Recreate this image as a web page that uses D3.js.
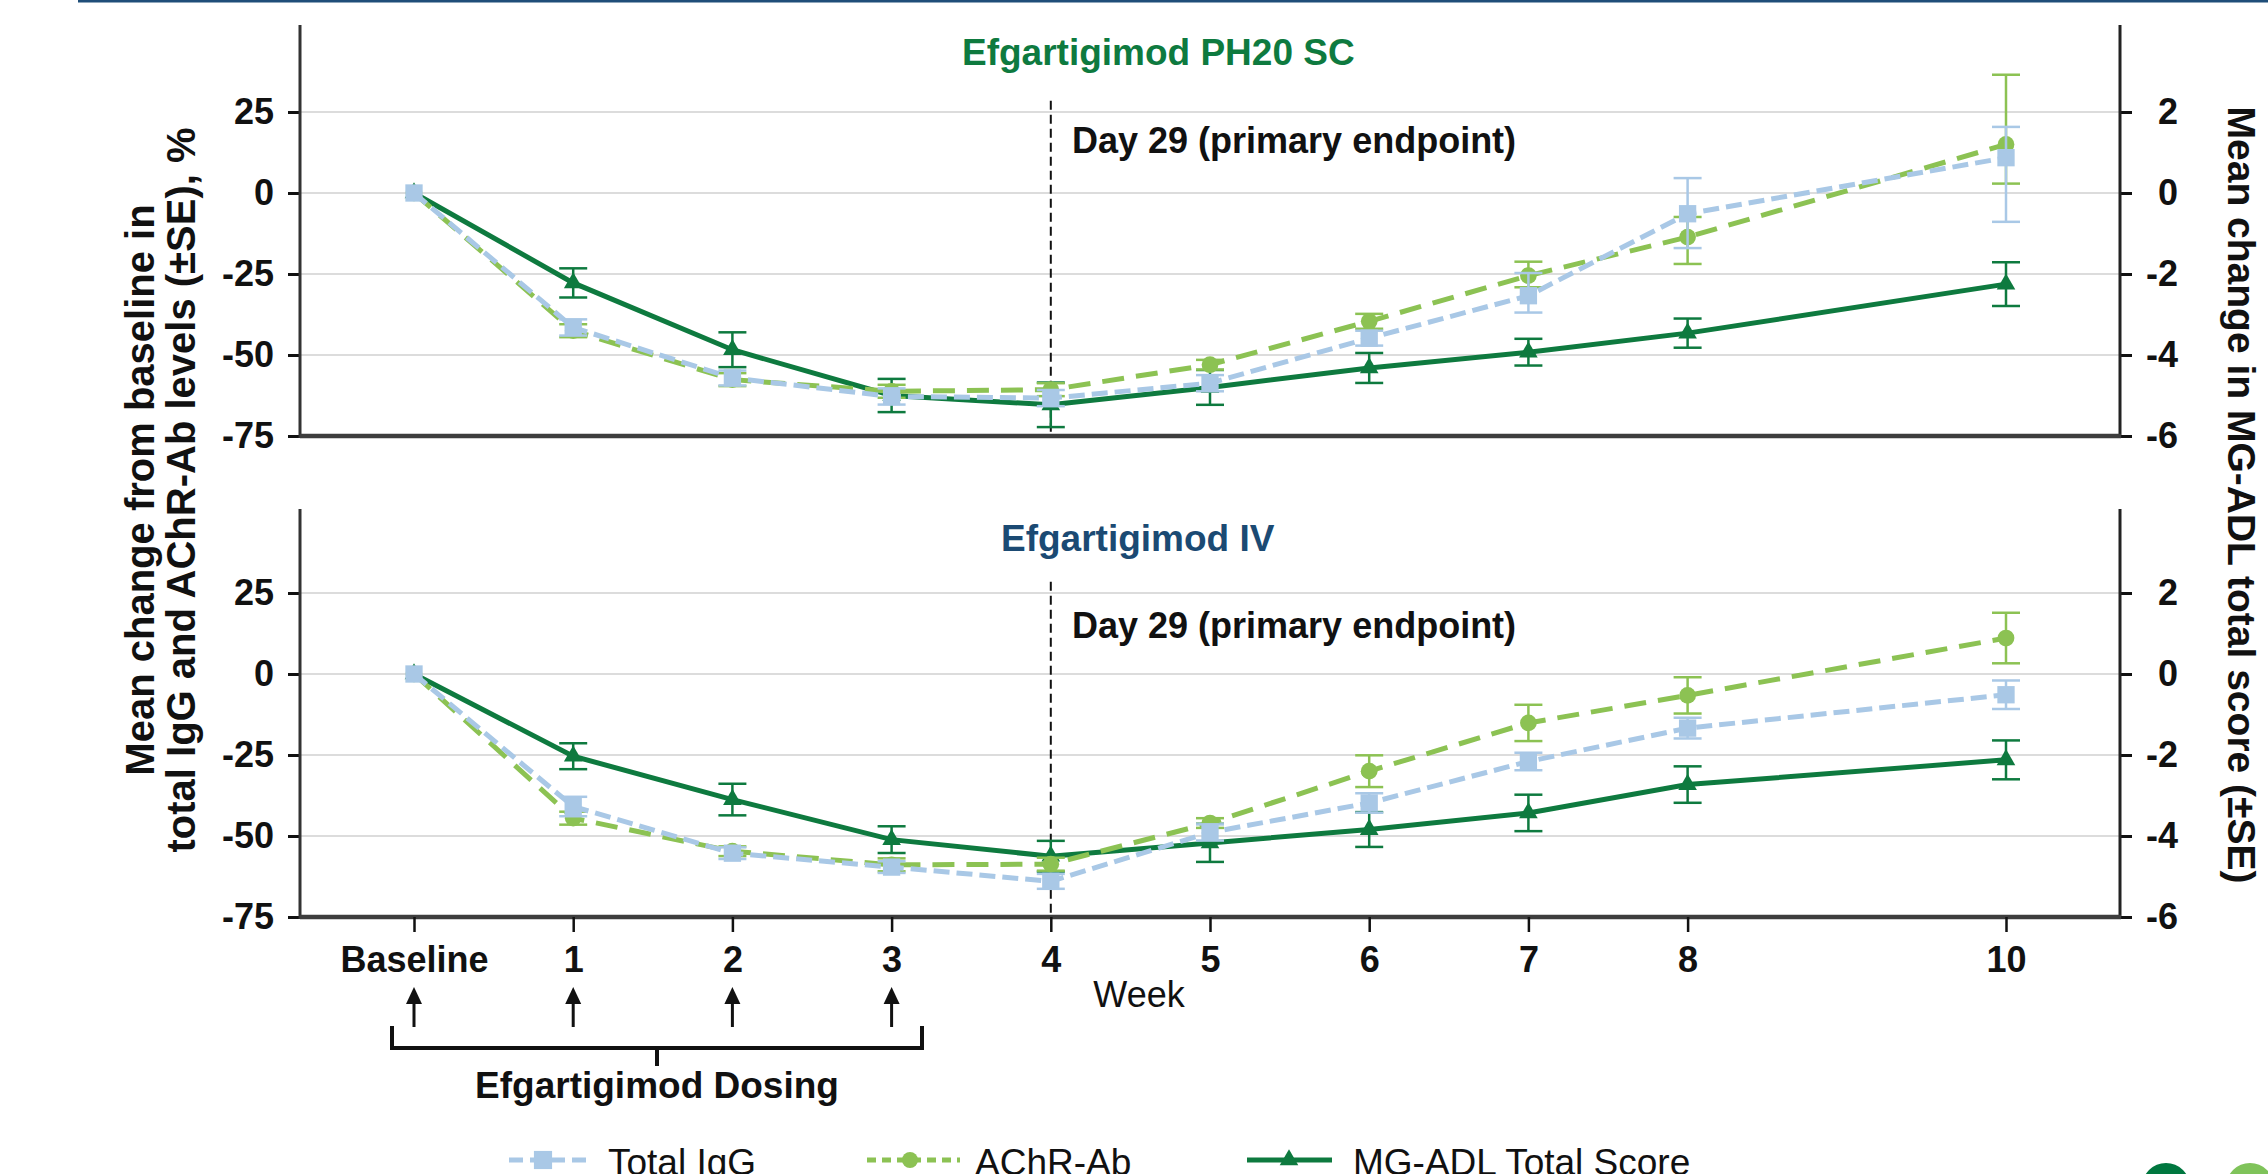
<!DOCTYPE html>
<html>
<head>
<meta charset="utf-8">
<script src="https://cdn.jsdelivr.net/npm/d3@7"></script>
<style>
  body { margin: 0; background: #fff; }
  svg text { font-family: "Liberation Sans", Arial, Helvetica, sans-serif; }
</style>
</head>
<body>
<svg id="chart" width="2268" height="1174"></svg>
<script>
'use strict';

// weeks on the x axis (baseline = 0)
var weeks = [0, 1, 2, 3, 4, 5, 6, 7, 8, 10];
var weekLabels = ['Baseline', '1', '2', '3', '4', '5', '6', '7', '8', '10'];
var leftTicks = [25, 0, -25, -50, -75];
var rightTicks = [2, 0, -2, -4, -6];
var gridVals = [25, 0, -25, -50];
var dosingWeeks = [0, 1, 2, 3];

// Efgartigimod PH20 SC (top panel)
var scIgG = [0, -41.5, -57.1, -62.8, -63.3, -58.7, -44.8, -31.7, -6.4, 10.9];
var scIgGUp = [0, 2.5, 2.3, 2.5, 2.5, 2.5, 2.3, 7.0, 11.0, 9.5];
var scIgGDown = [0, 2.5, 2.3, 2.5, 2.5, 2.5, 2.3, 5.2, 10.6, 19.8];
var scAChR = [0, -42.5, -57.6, -61.2, -60.7, -53, -39.6, -25.5, -13.6, 15];
var scAChRUp = [0, 2, 2, 2, 2, 1.5, 2.3, 4.3, 6.2, 21.5];
var scAChRDown = [0, 2, 2, 2, 2, 1.5, 2.3, 3.6, 8.3, 12.1];
var scMG = [0, -2.22, -3.87, -5.0, -5.23, -4.8, -4.32, -3.93, -3.46, -2.25];
var scMGSe = [0, 0.36, 0.43, 0.41, 0.55, 0.43, 0.37, 0.33, 0.36, 0.54];

// Efgartigimod IV (bottom panel)
var ivIgG = [0, -40.9, -55.3, -59.6, -64, -48.9, -39.8, -27, -16.7, -6.4];
var ivIgGSe = [0, 3, 1.8, 1.8, 2.3, 2.5, 3, 2.7, 3.2, 4.4];
var ivAChR = [0, -44.5, -54.7, -58.9, -58.7, -46, -30, -15.1, -6.6, 11.1];
var ivAChRSe = [0, 2, 1.5, 2, 2, 1.5, 4.9, 5.6, 5.6, 7.8];
var ivMG = [0, -2.03, -3.1, -4.09, -4.5, -4.17, -3.84, -3.43, -2.73, -2.12];
var ivMGSe = [0, 0.32, 0.39, 0.33, 0.38, 0.47, 0.43, 0.45, 0.45, 0.48];

var blue = '#a9c8e6', lime = '#8cc253', green = '#0e7a3f';
var xLeft = 300, xRight = 2120;
var svg = d3.select('#chart');

var x = d3.scaleLinear().domain([0, 10]).range([414, 2006]);

// thin rule at the very top
svg.append('line')
  .attr('x1', 78).attr('x2', 2268).attr('y1', 1).attr('y2', 1)
  .attr('stroke', '#1f4e79').attr('stroke-width', 3);

function drawPanel(p) {
  var yL = d3.scaleLinear().domain([-75, 25]).range([p.bottom, p.top25]);
  var yR = d3.scaleLinear().domain([-6, 2]).range([p.bottom, p.top25]);
  var g = svg.append('g');

  // gridlines
  g.selectAll('.grid').data(gridVals).enter().append('line')
    .attr('x1', xLeft).attr('x2', xRight)
    .attr('y1', function(d) { return yL(d); })
    .attr('y2', function(d) { return yL(d); })
    .attr('stroke', '#dcdcdc').attr('stroke-width', 2);

  // day 29 marker
  g.append('line')
    .attr('x1', x(4)).attr('x2', x(4))
    .attr('y1', yL(28.5)).attr('y2', yL(-75))
    .attr('stroke', '#111').attr('stroke-width', 2)
    .attr('stroke-dasharray', '9,5');
  g.append('text')
    .attr('x', 1072).attr('y', p.dayY)
    .style('font-size', '36px').style('font-weight', 'bold')
    .attr('fill', '#111')
    .text('Day 29 (primary endpoint)');

  // title
  g.append('text')
    .attr('x', p.titleX).attr('y', p.titleY)
    .style('font-size', '37px').style('font-weight', 'bold')
    .attr('fill', p.titleColor)
    .text(p.title);

  // series: MG-ADL first so the antibody lines sit on top
  p.series.forEach(function(s) {
    var pts = weeks.map(function(w, i) {
      return { w: w, v: s.mean[i], up: s.up[i], down: s.down[i] };
    });
    var line = d3.line()
      .x(function(d) { return x(d.w); })
      .y(function(d) { return s.y(d.v); });
    g.append('path')
      .datum(pts)
      .attr('d', line)
      .attr('fill', 'none')
      .attr('stroke', s.color)
      .attr('stroke-width', s.width)
      .attr('stroke-dasharray', s.dash);

    var eb = g.selectAll(null)
      .data(pts.filter(function(d) { return d.up > 0 || d.down > 0; }))
      .enter().append('g')
      .attr('stroke', s.color).attr('stroke-width', 2.5);
    eb.append('line')
      .attr('x1', function(d) { return x(d.w); })
      .attr('x2', function(d) { return x(d.w); })
      .attr('y1', function(d) { return s.y(d.v + d.up); })
      .attr('y2', function(d) { return s.y(d.v - d.down); });
    eb.append('line')
      .attr('x1', function(d) { return x(d.w) - 14; })
      .attr('x2', function(d) { return x(d.w) + 14; })
      .attr('y1', function(d) { return s.y(d.v + d.up); })
      .attr('y2', function(d) { return s.y(d.v + d.up); });
    eb.append('line')
      .attr('x1', function(d) { return x(d.w) - 14; })
      .attr('x2', function(d) { return x(d.w) + 14; })
      .attr('y1', function(d) { return s.y(d.v - d.down); })
      .attr('y2', function(d) { return s.y(d.v - d.down); });

    g.selectAll(null)
      .data(pts).enter().append('path')
      .attr('d', d3.symbol().type(s.symbol).size(s.size))
      .attr('transform', function(d) {
        return 'translate(' + x(d.w) + ',' + s.y(d.v) + ')';
      })
      .attr('fill', s.color);
  });

  // left axis
  var ax = g.append('g')
    .attr('transform', 'translate(' + xLeft + ',0)')
    .call(d3.axisLeft(yL).tickValues(leftTicks).tickSize(12).tickPadding(14)
      .tickFormat(function(d) { return String(d); }));
  ax.select('.domain').remove();
  ax.selectAll('line').attr('stroke', '#111').attr('stroke-width', 3);
  ax.selectAll('text').style('font-size', '36px').style('font-weight', 'bold')
    .attr('fill', '#111').attr('font-family', null);

  // right axis
  var ar = g.append('g')
    .attr('transform', 'translate(' + xRight + ',0)')
    .call(d3.axisRight(yR).tickValues(rightTicks).tickSize(12).tickPadding(14)
      .tickFormat(function(d) { return String(d); }));
  ar.select('.domain').remove();
  ar.selectAll('line').attr('stroke', '#111').attr('stroke-width', 3);
  ar.selectAll('text').style('font-size', '36px').style('font-weight', 'bold')
    .attr('fill', '#111').attr('text-anchor', 'end').attr('x', 58).attr('font-family', null);

  // axis lines
  g.append('line').attr('x1', xLeft).attr('x2', xLeft)
    .attr('y1', p.axisTop).attr('y2', p.bottom + 2)
    .attr('stroke', '#333').attr('stroke-width', 3);
  g.append('line').attr('x1', xRight).attr('x2', xRight)
    .attr('y1', p.axisTop).attr('y2', p.bottom + 2)
    .attr('stroke', '#222').attr('stroke-width', 3);
  g.append('line').attr('x1', xLeft).attr('x2', xRight + 1)
    .attr('y1', p.bottom).attr('y2', p.bottom)
    .attr('stroke', '#3d3d3d').attr('stroke-width', 4.5);
}

function seriesFor(yL, yR, igg, iggUp, iggDown, achr, achrUp, achrDown, mg, mgSe) {
  return [
    { mean: mg, up: mgSe, down: mgSe, y: yR, color: green, width: 5, dash: null,
      symbol: d3.symbolTriangle, size: 150 },
    { mean: achr, up: achrUp, down: achrDown, y: yL, color: lime, width: 5, dash: '22,12',
      symbol: d3.symbolCircle, size: 220 },
    { mean: igg, up: iggUp, down: iggDown, y: yL, color: blue, width: 5, dash: '16,7',
      symbol: d3.symbolSquare, size: 300 }
  ];
}

var panels = [
  { top25: 112, bottom: 436, axisTop: 25, title: 'Efgartigimod PH20 SC', titleX: 962, titleY: 65,
    titleColor: '#0e7a3f', dayY: 153 },
  { top25: 593, bottom: 917, axisTop: 509, title: 'Efgartigimod IV', titleX: 1001, titleY: 551,
    titleColor: '#1b4a73', dayY: 638 }
];
panels[0].series = seriesFor(
  d3.scaleLinear().domain([-75, 25]).range([436, 112]),
  d3.scaleLinear().domain([-6, 2]).range([436, 112]),
  scIgG, scIgGUp, scIgGDown, scAChR, scAChRUp, scAChRDown, scMG, scMGSe);
panels[1].series = seriesFor(
  d3.scaleLinear().domain([-75, 25]).range([917, 593]),
  d3.scaleLinear().domain([-6, 2]).range([917, 593]),
  ivIgG, ivIgGSe, ivIgGSe, ivAChR, ivAChRSe, ivAChRSe, ivMG, ivMGSe);

panels.forEach(drawPanel);

// x axis (bottom panel only)
var axb = svg.append('g')
  .attr('transform', 'translate(0,917)')
  .call(d3.axisBottom(x).tickValues(weeks).tickSize(15)
    .tickFormat(function(d, i) { return weekLabels[i]; }));
axb.select('.domain').remove();
axb.selectAll('line').attr('stroke', '#111').attr('stroke-width', 2.5);
axb.selectAll('text').attr('y', 55).attr('dy', 0)
  .style('font-size', '36px').style('font-weight', 'bold')
  .attr('fill', '#111').attr('font-family', null);

svg.append('text')
  .attr('x', 1139).attr('y', 1007).attr('text-anchor', 'middle')
  .style('font-size', '36px').attr('fill', '#111')
  .text('Week');

// y axis titles
svg.append('text')
  .attr('transform', 'translate(154,490) rotate(-90)')
  .attr('text-anchor', 'middle')
  .style('font-size', '40px').style('font-weight', 'bold').attr('fill', '#111')
  .selectAll('tspan')
  .data(['Mean change from baseline in', 'total IgG and AChR-Ab levels (\u00b1SE), %'])
  .enter().append('tspan')
  .attr('x', 0).attr('dy', function(d, i) { return i ? 41 : 0; })
  .text(function(d) { return d; });

svg.append('text')
  .attr('transform', 'translate(2228,495) rotate(90)')
  .attr('text-anchor', 'middle')
  .style('font-size', '39px').style('font-weight', 'bold').attr('fill', '#111')
  .text('Mean change in MG-ADL total score (\u00b1SE)');

// dosing arrows and bracket
svg.selectAll('.dose').data(dosingWeeks).enter().append('line')
  .attr('x1', function(d) { return x(d); }).attr('x2', function(d) { return x(d); })
  .attr('y1', 1000).attr('y2', 1027)
  .attr('stroke', '#111').attr('stroke-width', 3);
svg.selectAll('.doseHead').data(dosingWeeks).enter().append('path')
  .attr('d', function(d) {
    var cx = x(d);
    return 'M' + (cx - 8) + ',1004L' + cx + ',987L' + (cx + 8) + ',1004Z';
  })
  .attr('fill', '#111');
svg.append('path')
  .attr('d', 'M392,1026V1048H922V1026M657,1048V1066')
  .attr('fill', 'none').attr('stroke', '#111').attr('stroke-width', 4);
svg.append('text')
  .attr('x', 657).attr('y', 1098).attr('text-anchor', 'middle')
  .style('font-size', '37px').style('font-weight', 'bold').attr('fill', '#111')
  .text('Efgartigimod Dosing');

// legend
var legendItems = [
  { label: 'Total IgG', color: blue, dash: '14,7', x1: 509, x2: 588, mx: 543,
    symbol: d3.symbolSquare, size: 330, tx: 608 },
  { label: 'AChR-Ab', color: lime, dash: '9,6', x1: 867, x2: 960, mx: 910,
    symbol: d3.symbolCircle, size: 200, tx: 975 },
  { label: 'MG-ADL Total Score', color: green, dash: null, x1: 1247, x2: 1332, mx: 1289,
    symbol: d3.symbolTriangle, size: 150, tx: 1353 }
];
var lg = svg.selectAll('.legend').data(legendItems).enter().append('g');
lg.append('line')
  .attr('x1', function(d) { return d.x1; }).attr('x2', function(d) { return d.x2; })
  .attr('y1', 1160).attr('y2', 1160)
  .attr('stroke', function(d) { return d.color; })
  .attr('stroke-width', 5)
  .attr('stroke-dasharray', function(d) { return d.dash; });
lg.append('path')
  .attr('d', function(d) { return d3.symbol().type(d.symbol).size(d.size)(); })
  .attr('transform', function(d) { return 'translate(' + d.mx + ',1160)'; })
  .attr('fill', function(d) { return d.color; });
lg.append('text')
  .attr('x', function(d) { return d.tx; }).attr('y', 1175)
  .style('font-size', '37px').attr('fill', '#111')
  .text(function(d) { return d.label; });

// logo circles cut by the bottom edge
svg.append('circle').attr('cx', 2166).attr('cy', 1187).attr('r', 24).attr('fill', '#00773f');
svg.append('circle').attr('cx', 2250).attr('cy', 1187).attr('r', 24).attr('fill', '#7fc35a');
</script>
</body>
</html>
